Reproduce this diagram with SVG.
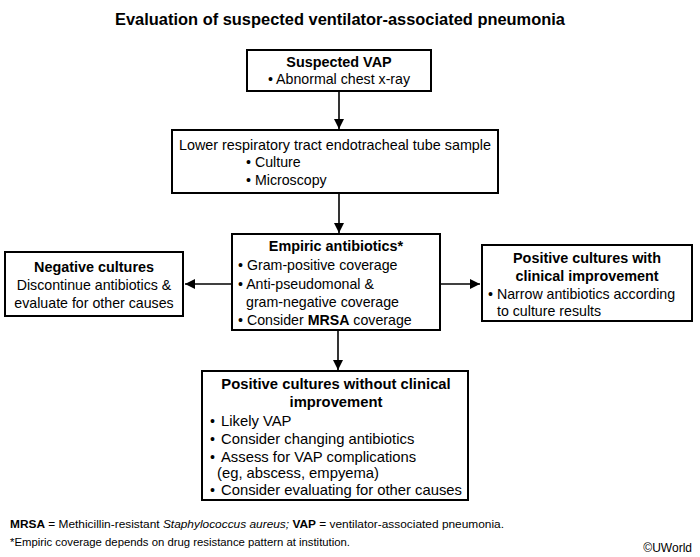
<svg xmlns="http://www.w3.org/2000/svg" width="700" height="557" viewBox="0 0 700 557">
<defs>
<marker id="ah" viewBox="0 0 10 10" refX="10" refY="5" markerWidth="10" markerHeight="10" markerUnits="userSpaceOnUse" orient="auto">
<path d="M0,0 L10,5 L0,10 z" fill="#000"/>
</marker>
<style>
text{font-family:"Liberation Sans",Arial,sans-serif;fill:#000}
.box{fill:#fff;stroke:#000;stroke-width:2}
.t{font-size:14.2px}
.b{font-size:14.4px;font-weight:bold}
.c{text-anchor:middle}
.f{font-size:11.5px}
.conn{stroke:#000;stroke-width:1.6;fill:none;marker-end:url(#ah)}
</style>
</defs>
<rect width="700" height="557" fill="#fff"/>
<text x="340" y="25" class="c" style="font-size:17px;font-weight:bold" textLength="450" lengthAdjust="spacingAndGlyphs">Evaluation of suspected ventilator-associated pneumonia</text>

<g id="connectors">
<line class="conn" x1="339" y1="91" x2="339" y2="129"/>
<line class="conn" x1="339" y1="193" x2="339" y2="233"/>
<line class="conn" x1="232" y1="284" x2="185" y2="284"/>
<line class="conn" x1="440" y1="284" x2="480" y2="284"/>
<line class="conn" x1="338" y1="330" x2="338" y2="370"/>
</g>

<g id="suspected">
<rect class="box" x="247" y="50" width="184" height="41"/>
<text x="339" y="67" class="b c">Suspected VAP</text>
<text x="339" y="84" class="t c">• Abnormal chest x-ray</text>
</g>

<g id="sample">
<rect class="box" x="172" y="130" width="326" height="63"/>
<text x="179" y="150" class="t" textLength="312" lengthAdjust="spacingAndGlyphs">Lower respiratory tract endotracheal tube sample</text>
<text x="246" y="167" class="t">• Culture</text>
<text x="246" y="185" class="t">• Microscopy</text>
</g>

<g id="empiric">
<rect class="box" x="232" y="234" width="208" height="96"/>
<text x="336" y="251" class="b c">Empiric antibiotics*</text>
<text x="238" y="270" class="t">• Gram-positive coverage</text>
<text x="238" y="289" class="t">• Anti-pseudomonal &amp;</text>
<text x="246" y="307" class="t">gram-negative coverage</text>
<text x="238" y="325" class="t">• Consider <tspan font-weight="bold">MRSA</tspan> coverage</text>
</g>

<g id="negative">
<rect class="box" x="5" y="252" width="178" height="64"/>
<text x="94" y="272" class="b c">Negative cultures</text>
<text x="94" y="290" class="t c">Discontinue antibiotics &amp;</text>
<text x="94" y="308" class="t c">evaluate for other causes</text>
</g>

<g id="positive-improve">
<rect class="box" x="482" y="245" width="210" height="76"/>
<text x="587" y="263" class="b c">Positive cultures with</text>
<text x="587" y="281" class="b c">clinical improvement</text>
<text x="488" y="299" class="t">• Narrow antibiotics according</text>
<text x="497" y="316" class="t">to culture results</text>
</g>

<g id="positive-noimprove">
<rect class="box" x="202" y="371" width="266" height="129"/>
<text x="336" y="389" class="b c" style="font-size:14.8px">Positive cultures without clinical</text>
<text x="336" y="407" class="b c" style="font-size:14.8px">improvement</text>
<text x="210" y="426" class="t">•</text><text x="221" y="426" class="t" style="font-size:14.8px">Likely VAP</text>
<text x="210" y="444" class="t">•</text><text x="221" y="444" class="t" style="font-size:14.8px">Consider changing antibiotics</text>
<text x="210" y="462" class="t">•</text><text x="221" y="462" class="t" style="font-size:14.8px">Assess for VAP complications</text>
<text x="217" y="478" class="t" style="font-size:14.8px">(eg, abscess, empyema)</text>
<text x="210" y="495" class="t">•</text><text x="221" y="495" class="t" style="font-size:14.8px">Consider evaluating for other causes</text>
</g>

<text x="10" y="528" class="f" textLength="494" lengthAdjust="spacingAndGlyphs"><tspan font-weight="bold">MRSA</tspan> = Methicillin-resistant <tspan font-style="italic">Staphylococcus aureus;</tspan> <tspan font-weight="bold">VAP</tspan> = ventilator-associated pneumonia.</text>
<text x="10" y="546" class="f" textLength="340" lengthAdjust="spacingAndGlyphs">*Empiric coverage depends on drug resistance pattern at institution.</text>
<text x="692" y="552" class="f" text-anchor="end" style="font-size:12px">©UWorld</text>
</svg>
